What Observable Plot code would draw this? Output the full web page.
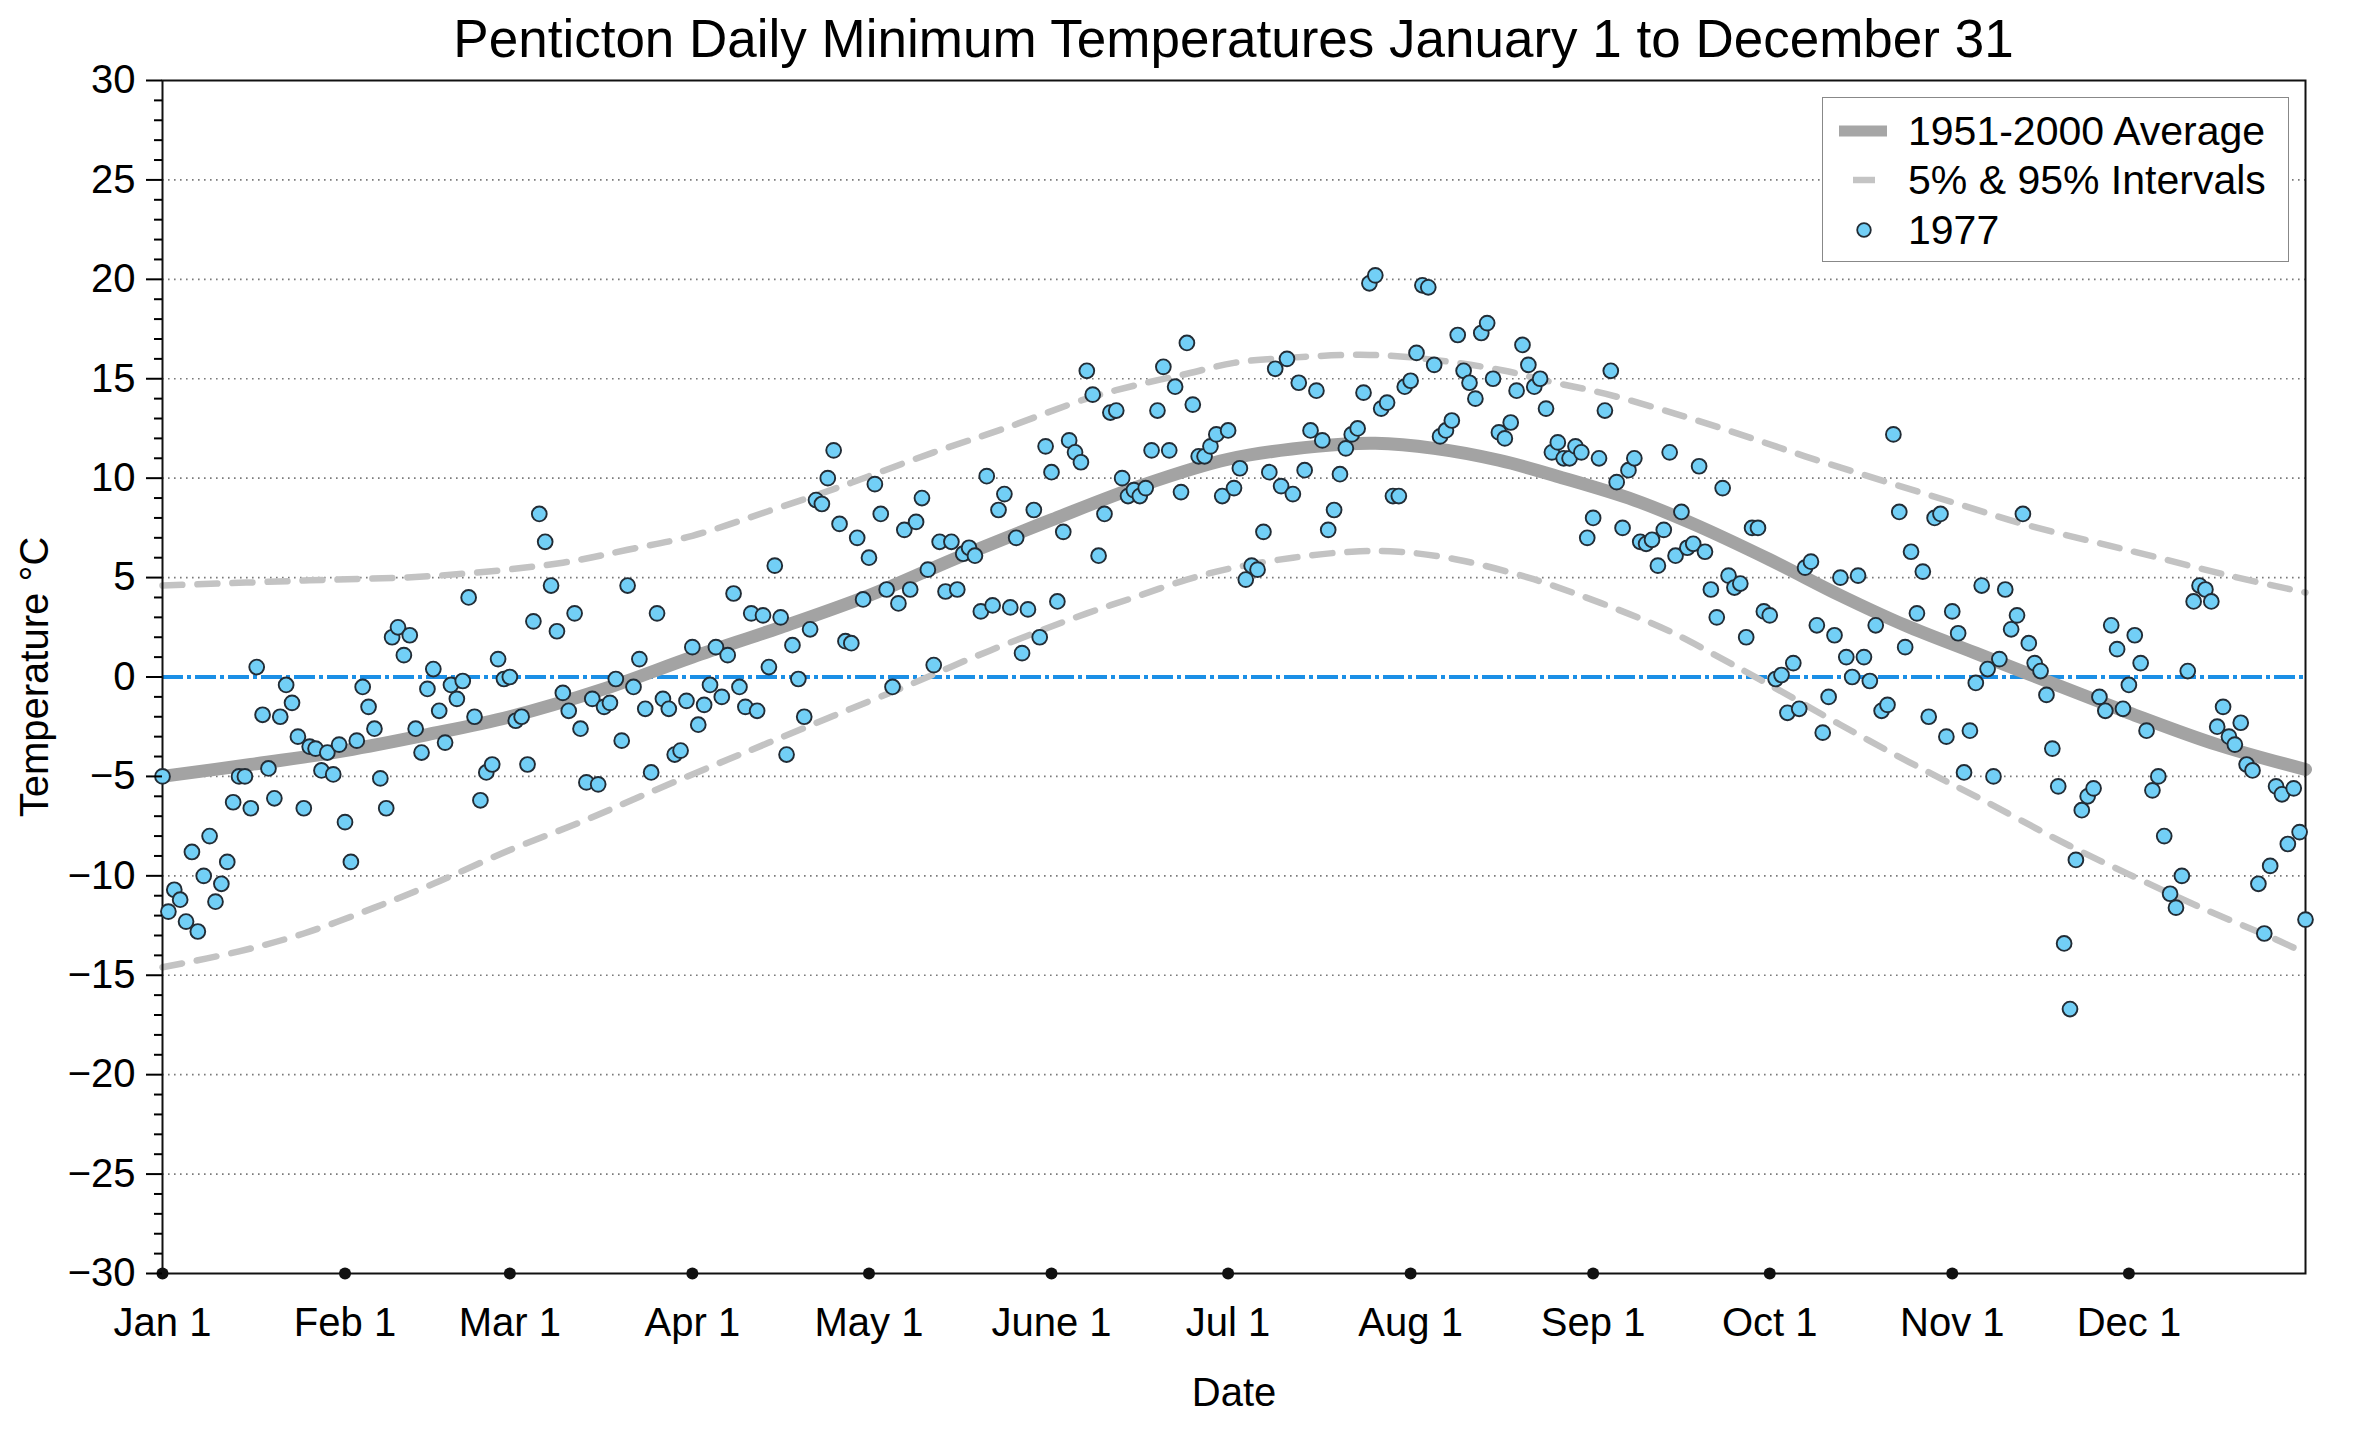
<!DOCTYPE html>
<html>
<head>
<meta charset="utf-8">
<script src="https://cdn.jsdelivr.net/npm/d3@7"></script>
<script src="https://cdn.jsdelivr.net/npm/@observablehq/plot@0.6"></script>
<style>
  html, body { margin: 0; padding: 0; background: white; overflow: hidden; }
  body { width: 2360px; height: 1432px; font-family: "Liberation Sans", Arial, sans-serif; color: #000; }
  #title { width: 2143px; margin-left: 162px; height: 74px; padding-top: 4px; box-sizing: border-box;
           line-height: 70px; font-size: 53px; text-align: center; white-space: nowrap; }
  #wrap { position: relative; width: 2360px; height: 1358px; }
  #legend { position: absolute; left: 1822px; top: 23px; width: 467px; height: 165px; box-sizing: border-box;
            border: 1.5px solid #888; background: white; }
  #legend svg { position: absolute; left: 0; top: 0; }
  #legend .lab { position: absolute; left: 85px; height: 50px; line-height: 50px; font-size: 41px; white-space: nowrap; }
</style>
</head>
<body>
<div id="title">Penticton Daily Minimum Temperatures January 1 to December 31</div>
<div id="wrap">
  <div id="chart"></div>
  <div id="legend">
    <svg width="465" height="163">
      <line x1="16" x2="64" y1="33" y2="33" stroke="#a6a6a6" stroke-width="11"/>
      <line x1="30" x2="52" y1="82" y2="82" stroke="#c4c4c4" stroke-width="6.5"/>
      <circle cx="41" cy="132" r="6.8" fill="#72cff6" stroke="#222c35" stroke-width="1.8"/>
    </svg>
    <div class="lab" style="top:8px">1951-2000 Average</div>
    <div class="lab" style="top:57px">5% &amp; 95% Intervals</div>
    <div class="lab" style="top:107px">1977</div>
  </div>
</div>
<script>
// daily minimum temperatures 1977, day 0 = Jan 1
const temps1977 = [
  -5.0, -11.8, -10.7, -11.2, -12.3, -8.8, -12.8, -10.0, -8.0, -11.3,
  -10.4, -9.3, -6.3, -5.0, -5.0, -6.6, 0.5, -1.9, -4.6, -6.1,
  -2.0, -0.4, -1.3, -3.0, -6.6, -3.5, -3.6, -4.7, -3.8, -4.9,
  -3.4, -7.3, -9.3, -3.2, -0.5, -1.5, -2.6, -5.1, -6.6, 2.0,
  2.5, 1.1, 2.1, -2.6, -3.8, -0.6, 0.4, -1.7, -3.3, -0.4,
  -1.1, -0.2, 4.0, -2.0, -6.2, -4.8, -4.4, 0.9, -0.1, 0.0,
  -2.2, -2.0, -4.4, 2.8, 8.2, 6.8, 4.6, 2.3, -0.8, -1.7,
  3.2, -2.6, -5.3, -1.1, -5.4, -1.5, -1.3, -0.1, -3.2, 4.6,
  -0.5, 0.9, -1.6, -4.8, 3.2, -1.1, -1.6, -3.9, -3.7, -1.2,
  1.5, -2.4, -1.4, -0.4, 1.5, -1.0, 1.1, 4.2, -0.5, -1.5,
  3.2, -1.7, 3.1, 0.5, 5.6, 3.0, -3.9, 1.6, -0.1, -2.0,
  2.4, 8.9, 8.7, 10.0, 11.4, 7.7, 1.8, 1.7, 7.0, 3.9,
  6.0, 9.7, 8.2, 4.4, -0.5, 3.7, 7.4, 4.4, 7.8, 9.0,
  5.4, 0.6, 6.8, 4.3, 6.8, 4.4, 6.2, 6.5, 6.1, 3.3,
  10.1, 3.6, 8.4, 9.2, 3.5, 7.0, 1.2, 3.4, 8.4, 2.0,
  11.6, 10.3, 3.8, 7.3, 11.9, 11.3, 10.8, 15.4, 14.2, 6.1,
  8.2, 13.3, 13.4, 10.0, 9.1, 9.4, 9.1, 9.5, 11.4, 13.4,
  15.6, 11.4, 14.6, 9.3, 16.8, 13.7, 11.1, 11.1, 11.6, 12.2,
  9.1, 12.4, 9.5, 10.5, 4.9, 5.6, 5.4, 7.3, 10.3, 15.5,
  9.6, 16.0, 9.2, 14.8, 10.4, 12.4, 14.4, 11.9, 7.4, 8.4,
  10.2, 11.5, 12.2, 12.5, 14.3, 19.8, 20.2, 13.5, 13.8, 9.1,
  9.1, 14.6, 14.9, 16.3, 19.7, 19.6, 15.7, 12.1, 12.4, 12.9,
  17.2, 15.4, 14.8, 14.0, 17.3, 17.8, 15.0, 12.3, 12.0, 12.8,
  14.4, 16.7, 15.7, 14.6, 15.0, 13.5, 11.3, 11.8, 11.0, 11.0,
  11.6, 11.3, 7.0, 8.0, 11.0, 13.4, 15.4, 9.8, 7.5, 10.4,
  11.0, 6.8, 6.7, 6.9, 5.6, 7.4, 11.3, 6.1, 8.3, 6.5,
  6.7, 10.6, 6.3, 4.4, 3.0, 9.5, 5.1, 4.5, 4.7, 2.0,
  7.5, 7.5, 3.3, 3.1, -0.1, 0.1, -1.8, 0.7, -1.6, 5.5,
  5.8, 2.6, -2.8, -1.0, 2.1, 5.0, 1.0, 0.0, 5.1, 1.0,
  -0.2, 2.6, -1.7, -1.4, 12.2, 8.3, 1.5, 6.3, 3.2, 5.3,
  -2.0, 8.0, 8.2, -3.0, 3.3, 2.2, -4.8, -2.7, -0.3, 4.6,
  0.4, -5.0, 0.9, 4.4, 2.4, 3.1, 8.2, 1.7, 0.7, 0.3,
  -0.9, -3.6, -5.5, -13.4, -16.7, -9.2, -6.7, -6.0, -5.6, -1.0,
  -1.7, 2.6, 1.4, -1.6, -0.4, 2.1, 0.7, -2.7, -5.7, -5.0,
  -8.0, -10.9, -11.6, -10.0, 0.3, 3.8, 4.6, 4.4, 3.8, -2.5,
  -1.5, -3.0, -3.4, -2.3, -4.4, -4.7, -10.4, -12.9, -9.5, -5.5,
  -5.9, -8.4, -5.6, -7.8, -12.2
];

// 1951-2000 average, read at these days
const avgDays  = [0, 15, 31, 45, 59, 75, 90, 105, 120, 135, 151, 166, 181, 196, 206, 216, 227, 238, 250, 260, 273, 285, 296, 308, 320, 334, 349, 364];
const avgTemps = [-5.0, -4.4, -3.7, -2.9, -2.0, -0.6, 1.0, 2.5, 4.1, 6.0, 7.9, 9.6, 10.95, 11.6, 11.75, 11.5, 10.9, 10.0, 8.9, 7.7, 5.9, 4.1, 2.6, 1.2, -0.2, -1.8, -3.4, -4.65];

// 95% interval
const p95Days  = [0, 24, 47, 68, 79, 90, 103, 114, 120, 131, 143, 157, 165, 174, 182, 191, 205, 216, 228, 235, 245, 258, 270, 279, 293, 305, 316, 328, 339, 351, 364];
const p95Temps = [4.6, 4.85, 5.1, 5.75, 6.4, 7.1, 8.35, 9.45, 10.1, 11.3, 12.5, 14.0, 14.65, 15.25, 15.8, 16.05, 16.2, 15.95, 15.4, 14.9, 14.25, 13.15, 12.0, 11.1, 9.8, 8.7, 7.7, 6.8, 6.0, 5.1, 4.25];

// 5% interval
const p05Days  = [0, 13, 24, 36, 46, 59, 71, 82, 94, 103, 114, 126, 137, 148, 157, 165, 174, 182, 192, 202, 210, 220, 232, 239, 248, 256, 265, 273, 285, 293, 302, 308, 324, 336, 347, 359, 364];
const p05Temps = [-14.6, -13.8, -12.9, -11.6, -10.4, -8.7, -7.3, -5.9, -4.4, -3.3, -1.95, -0.5, 0.9, 2.2, 3.2, 4.0, 4.9, 5.5, 6.0, 6.3, 6.3, 5.9, 5.0, 4.3, 3.3, 2.3, 0.9, -0.4, -2.4, -3.7, -5.1, -6.0, -8.5, -10.2, -11.7, -13.2, -13.9];

const monthDays   = [0, 31, 59, 90, 120, 151, 181, 212, 243, 273, 304, 334];
const monthLabels = ["Jan 1", "Feb 1", "Mar 1", "Apr 1", "May 1", "June 1", "Jul 1", "Aug 1", "Sep 1", "Oct 1", "Nov 1", "Dec 1"];
const yTicks = [-30, -25, -20, -15, -10, -5, 0, 5, 10, 15, 20, 25, 30];
const gridLines = [-25, -20, -15, -10, -5, 5, 10, 15, 20, 25];
const minorTicks = d3.range(-30, 31).filter(v => v % 5 !== 0);

const pair = (days, temps) => days.map((d, i) => ({day: d, t: temps[i]}));
const fmt = d => d < 0 ? "\u2212" + Math.abs(d) : String(d);

const chart = Plot.plot({
  width: 2360,
  height: 1358,
  marginLeft: 162,
  marginRight: 55,
  marginTop: 6,
  marginBottom: 159,
  style: {
    fontFamily: "'Liberation Sans', Arial, sans-serif",
    fontSize: "40px",
    color: "#000",
    background: "white",
    overflow: "visible"
  },
  x: {domain: [0, 364]},
  y: {domain: [-30, 30]},
  marks: [
    Plot.ruleY(gridLines, {stroke: "#7a7a7a", strokeWidth: 1.6, strokeDasharray: "1.6,4.4"}),
    Plot.ruleY([0], {stroke: "#1b8fe6", strokeWidth: 4, strokeDasharray: "21,4,4,4"}),
    Plot.line(pair(p95Days, p95Temps), {x: "day", y: "t", curve: "catmull-rom", stroke: "#c3c3c3", strokeWidth: 6.5, strokeDasharray: "20,15"}),
    Plot.line(pair(p05Days, p05Temps), {x: "day", y: "t", curve: "catmull-rom", stroke: "#c3c3c3", strokeWidth: 6.5, strokeDasharray: "20,15"}),
    Plot.line(pair(avgDays, avgTemps), {x: "day", y: "t", curve: "catmull-rom", stroke: "#a3a3a3", strokeWidth: 13}),
    Plot.frame({stroke: "#111", strokeWidth: 2}),
    Plot.dot(temps1977, {x: (d, i) => i, y: d => d, r: 7.4, fill: "#72cff6", stroke: "#222c35", strokeWidth: 1.9}),
    Plot.dot(monthDays, {x: d => d, frameAnchor: "bottom", r: 6, fill: "#111"}),
    Plot.axisY(minorTicks, {tickSize: 8, strokeWidth: 2, tickFormat: () => "", label: null}),
    Plot.axisY(yTicks, {
      tickSize: 16, tickPadding: 11, strokeWidth: 2, fontSize: 40, tickFormat: fmt,
      label: "Temperature °C", labelAnchor: "center", labelArrow: false, labelOffset: 143
    }),
    Plot.axisX(monthDays, {
      tickSize: 0, tickPadding: 34, fontSize: 40,
      tickFormat: d => monthLabels[monthDays.indexOf(d)],
      label: "Date", labelAnchor: "center", labelArrow: false, labelOffset: 132
    })
  ]
});

document.getElementById("chart").append(chart);
</script>
</body>
</html>
